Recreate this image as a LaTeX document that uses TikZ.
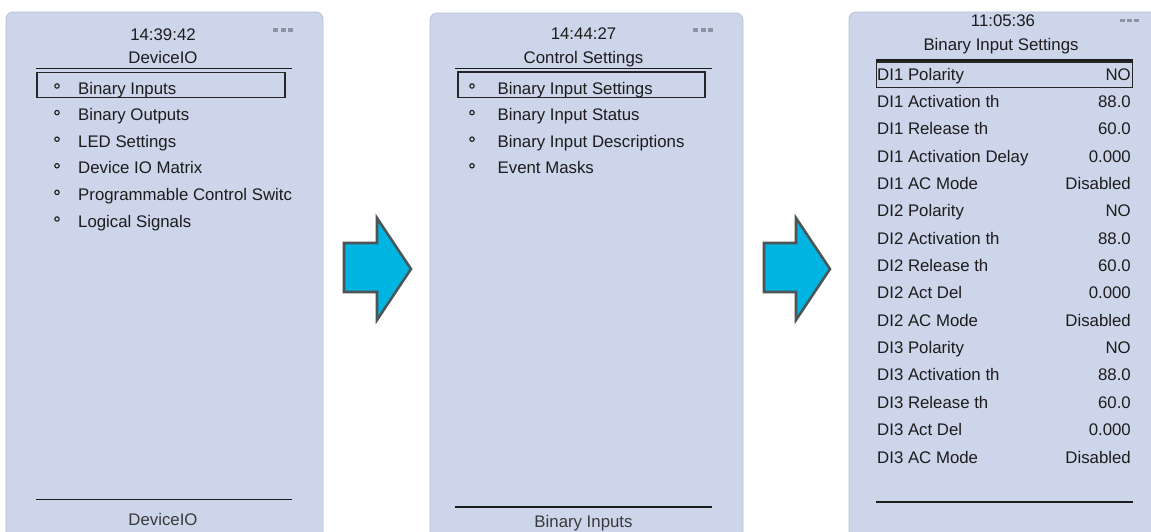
\documentclass[tikz,border=0pt]{standalone}
\usepackage{fontspec}
\setmainfont{Liberation Sans}
\definecolor{panel}{HTML}{CCD5EA}
\definecolor{panelborder}{HTML}{B8C1D5}
\definecolor{txt}{HTML}{1C1C1C}
\definecolor{subtxt}{HTML}{3A3A3A}
\definecolor{arrowfill}{HTML}{00B5E2}
\definecolor{arrowline}{HTML}{4D5456}
\definecolor{dotc}{HTML}{8D93A3}
\begin{document}
\begin{tikzpicture}[x=1pt,y=-1pt,
  panelbg/.style={fill=panel, draw=panelborder, line width=0.8pt, rounded corners=7pt},
  lbl/.style={inner sep=0pt, font=\fontsize{16.8}{18}\selectfont, text=txt},
  sublbl/.style={lbl, text=subtxt},
  sepline/.style={draw=txt, line width=1.8pt},
  selbox/.style={draw=black!85, line width=1.4pt},
  bullet/.style={draw=txt, line width=1.1pt},
  dotsq/.style={fill=dotc},
  bigarrow/.style={fill=arrowfill, draw=arrowline, line width=2.6pt, line join=miter}
]
\useasboundingbox (0,0) rectangle (1151,531);
\clip (0,0) rectangle (1151,531);
\fill[white] (0,0) rectangle (1151,531);

% ---------- panels ----------
\draw[panelbg] (6,12) rectangle (323,545);
\draw[panelbg] (430,13) rectangle (743,545);
\draw[panelbg] (849,12) rectangle (1165,545);

% ---------- status dots ----------
\foreach \x in {273,280.5,288} \fill[dotsq] (\x,27.5) rectangle ++(5,4);
\foreach \x in {693,700.5,708} \fill[dotsq] (\x,28) rectangle ++(5,4);
\foreach \x in {1120,1127,1134} \fill[dotsq] (\x,18.5) rectangle ++(4.5,3.5);

% ---------- panel 1 ----------
\node[lbl, anchor=base] (p1time) at (163,40) {14:39:42};
\node[lbl, anchor=base] (p1title) at (163,63) {DeviceIO};
\draw[sepline] (36,68.5) -- (292,68.5);
\draw[selbox] (37,72.5) rectangle (285,97.5);
\foreach \i/\t [count=\k from 0] in {a/Binary Inputs, b/Binary Outputs, c/LED Settings, d/Device IO Matrix, e/Programmable Control Switc, f/Logical Signals}{
  \draw[bullet] (57,94-8+\k*26.6) circle (2.2);
  \node[lbl, anchor=base west] (p1\i) at (78,94+\k*26.6) {\t};
}
\draw[sepline] (36,499.5) -- (292,499.5);
\node[sublbl, anchor=base] (p1foot) at (163,525) {DeviceIO};

% ---------- panel 2 ----------
\node[lbl, anchor=base] (p2time) at (583.5,39.5) {14:44:27};
\node[lbl, anchor=base] (p2title) at (583.5,63) {Control Settings};
\draw[sepline] (455,68.5) -- (712,68.5);
\draw[selbox] (458,72) rectangle (705,97.5);
\foreach \i/\t [count=\k from 0] in {a/Binary Input Settings, b/Binary Input Status, c/Binary Input Descriptions, d/Event Masks}{
  \draw[bullet] (472,94-8+\k*26.6) circle (2.2);
  \node[lbl, anchor=base west] (p2\i) at (497.5,94+\k*26.6) {\t};
}
\draw[sepline] (455,507) -- (712,507);
\node[sublbl, anchor=base] (p2foot) at (583.5,527.5) {Binary Inputs};

% ---------- panel 3 ----------
\node[lbl, anchor=base] (p3time) at (1003,26.5) {11:05:36};
\node[lbl, anchor=base] (p3title) at (1001,50) {Binary Input Settings};
\draw[sepline] (876,60) -- (1133,60);
\draw[selbox] (876.5,62) rectangle (1132.5,87.5);
\foreach \i/\t/\v [count=\k from 0] in {
  a/DI1 Polarity/NO, b/DI1 Activation th/88.0, c/DI1 Release th/60.0,
  d/DI1 Activation Delay/0.000, e/DI1 AC Mode/Disabled,
  f/DI2 Polarity/NO, g/DI2 Activation th/88.0, h/DI2 Release th/60.0,
  i/DI2 Act Del/0.000, j/DI2 AC Mode/Disabled,
  k/DI3 Polarity/NO, l/DI3 Activation th/88.0, m/DI3 Release th/60.0,
  n/DI3 Act Del/0.000, o/DI3 AC Mode/Disabled}{
  \node[lbl, anchor=base west] (p3\i) at (877,80+\k*27.36) {\t};
  \node[lbl, anchor=base east] (p3\i v) at (1131,80+\k*27.36) {\v};
}
\draw[sepline] (876,502) -- (1133,502);

% ---------- arrows ----------
\draw[bigarrow] (344,243) -- (377,243) -- (377,218) -- (411,269) -- (377,320) -- (377,292) -- (344,292) -- cycle;
\draw[bigarrow] (764,243) -- (796,243) -- (796,218) -- (830,269) -- (796,320) -- (796,292) -- (764,292) -- cycle;
\end{tikzpicture}
\end{document}
